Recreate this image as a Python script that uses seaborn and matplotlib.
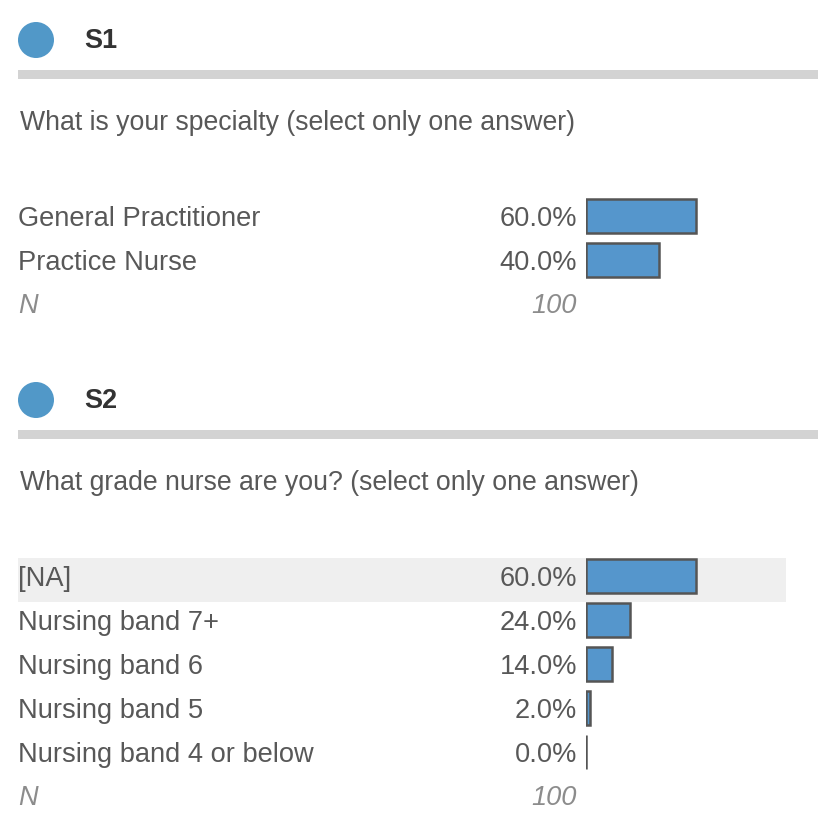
import numpy as np
import pandas as pd
import matplotlib.pyplot as plt
from matplotlib.patches import Circle, Rectangle
import seaborn as sns

W, H = 828, 834

# data
s1_code = "S1"
s1_question = "What is your specialty (select only one answer)"
s1_labels = ["General Practitioner", "Practice Nurse"]
s1_values = [60.0, 40.0]
s1_n = 100

s2_code = "S2"
s2_question = "What grade nurse are you? (select only one answer)"
s2_labels = ["[NA]", "Nursing band 7+", "Nursing band 6", "Nursing band 5",
             "Nursing band 4 or below"]
s2_values = [60.0, 24.0, 14.0, 2.0, 0.0]
s2_n = 100

blue = "#5596cc"
dot_blue = "#5198c8"
text_col = "#585858"
n_col = "#8c8c8c"
FS = 19.6

sns.set_theme(style="white")
plt.rcParams['font.family'] = ['Liberation Sans', 'DejaVu Sans']

fig = plt.figure(figsize=(W / 100, H / 100), dpi=100)
bg = fig.add_axes([0, 0, 1, 1])
bg.set_xlim(0, W)
bg.set_ylim(H, 0)
bg.axis('off')

ROW = 44        # row spacing in px
BAR_LEFT = 586  # where 0% is
BAR_FULL = 183  # px for 100%


def draw_section(top, code, question, labels, values, n, highlight=None):
    # header: dot, code, grey rule, question
    bg.add_patch(Circle((36, top + 40), 18, color=dot_blue, lw=0))
    bg.text(84, top + 48, code, fontsize=19.5, fontweight='bold',
            color='#333333', va='baseline')
    bg.add_patch(Rectangle((18, top + 70), 800, 9, color='#d3d3d3', lw=0))
    bg.text(20, top + 130, question, fontsize=19.2, color=text_col, va='baseline')

    row0 = top + 216
    centers = [row0 + i * ROW for i in range(len(labels))]

    if highlight is not None:
        c = centers[highlight]
        bg.add_patch(Rectangle((18, c - 18), 768, 44, color='#efefef', lw=0))

    for c, lab, v in zip(centers, labels, values):
        bg.text(18, c + 10, lab, fontsize=FS, color=text_col, va='baseline')
        bg.text(577, c + 10, f"{v:.1f}%", fontsize=FS, color=text_col,
                va='baseline', ha='right')

    nc = row0 + len(labels) * ROW
    bg.text(18, nc + 9, "N", fontsize=FS, style='italic', color=n_col, va='baseline')
    bg.text(577, nc + 9, str(n), fontsize=FS, style='italic', color=n_col,
            va='baseline', ha='right')

    # bars in their own axes
    y_top = centers[0] - ROW / 2
    y_bot = centers[-1] + ROW / 2
    ax = fig.add_axes([BAR_LEFT / W, 1 - y_bot / H, BAR_FULL / W, (y_bot - y_top) / H])
    df = pd.DataFrame({"label": labels, "value": values})
    sns.barplot(data=df, x="value", y="label", orient='h', color=blue,
                saturation=1, edgecolor='#555555', linewidth=1.8, width=0.79, ax=ax)
    ax.set_xlim(0, 100)
    ax.set_ylim(len(labels) - 0.5, -0.5)
    ax.set_facecolor('none')
    ax.axis('off')


draw_section(0, s1_code, s1_question, s1_labels, s1_values, s1_n)
draw_section(360, s2_code, s2_question, s2_labels, s2_values, s2_n, highlight=0)

fig.savefig("out.png", dpi=100)
